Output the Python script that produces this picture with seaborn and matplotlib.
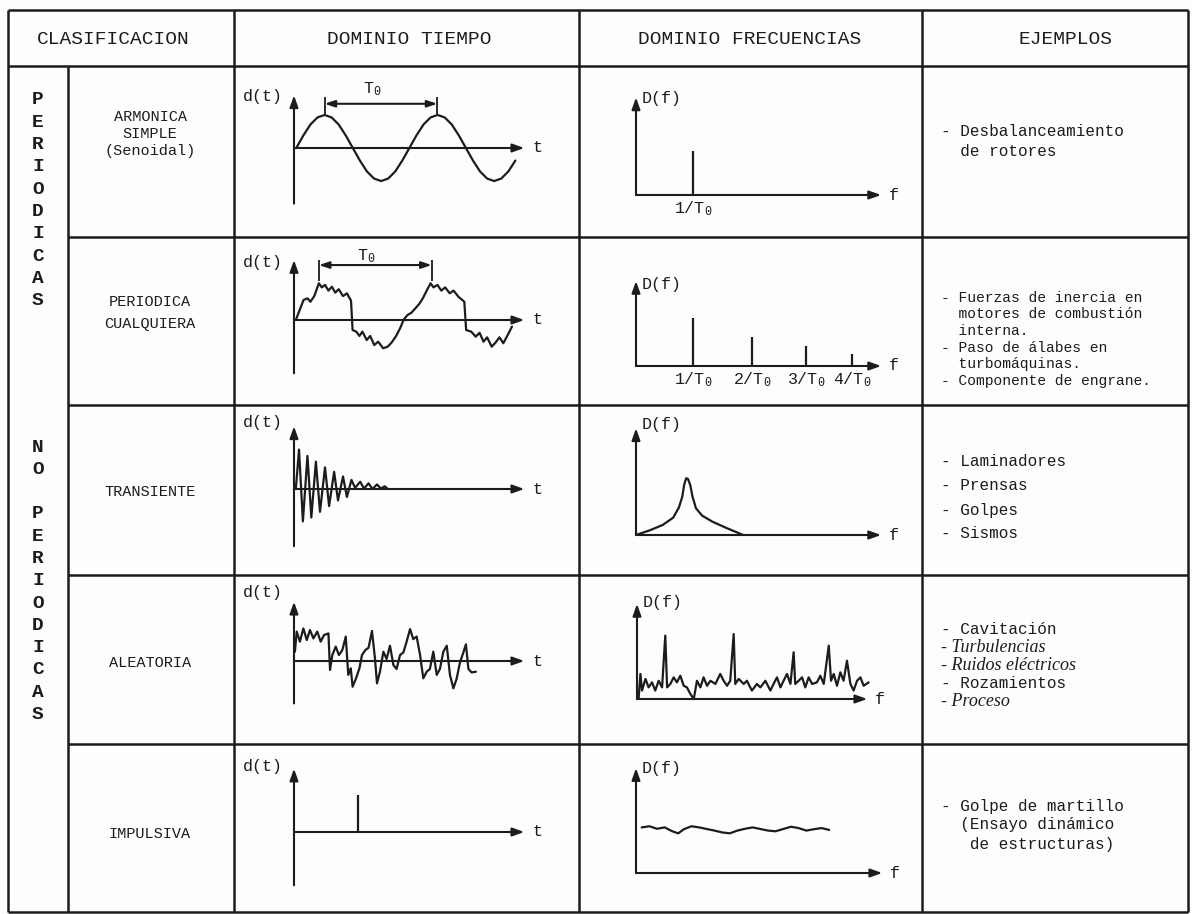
import matplotlib
matplotlib.use('Agg')
import matplotlib.pyplot as plt
import seaborn as sns

sns.set_theme(style='white')
plt.rcParams['font.family'] = ['Liberation Mono', 'DejaVu Sans']
plt.rcParams['mathtext.fontset'] = 'custom'
plt.rcParams['mathtext.rm'] = 'Liberation Mono'
plt.rcParams['mathtext.it'] = 'Liberation Mono'

headers = ['CLASIFICACION', 'DOMINIO TIEMPO', 'DOMINIO FRECUENCIAS', 'EJEMPLOS']
group_letters = [list('PERIODICAS'), ['N', 'O', '', 'P', 'E', 'R', 'I', 'O', 'D', 'I', 'C', 'A', 'S']]
classes = [['ARMONICA', 'SIMPLE', '(Senoidal)'], ['PERIODICA', 'CUALQUIERA'],
           ['TRANSIENTE'], ['ALEATORIA'], ['IMPULSIVA']]

examples = [
    ['- Desbalanceamiento', '  de rotores'],
    ['- Fuerzas de inercia en', '  motores de combustión', '  interna.',
     '- Paso de álabes en', '  turbomáquinas.', '- Componente de engrane.'],
    ['- Laminadores', '- Prensas', '- Golpes', '- Sismos'],
    ['- Cavitación', '- Turbulencias', '- Ruidos eléctricos', '- Rozamientos', '- Proceso'],
    ['- Golpe de martillo', '  (Ensayo dinámico', '   de estructuras)'],
]
handwritten = [[], [], [], [1, 2, 4], []]

# time domain sketches (t, d) in sketch units
sine_t = [0.10, 0.41, 0.72, 1.03, 1.34, 1.65, 1.96, 2.27, 2.58, 2.89, 3.20, 3.51, 3.82, 4.13,
          4.44, 4.75, 5.06, 5.37, 5.68, 5.99, 6.30, 6.61, 6.92, 7.23, 7.54, 7.85, 8.16, 8.47,
          8.78, 9.09, 9.40, 9.71]
sine_d = [0, 0.55, 1.03, 1.34, 1.45, 1.34, 1.03, 0.55, 0, -0.55, -1.03, -1.34, -1.45, -1.34,
          -1.03, -0.55, 0, 0.55, 1.03, 1.34, 1.45, 1.34, 1.03, 0.55, 0, -0.55, -1.03, -1.34,
          -1.45, -1.34, -1.03, -0.55]

per_t = [0.08, 0.25, 0.42, 0.59, 0.72, 0.89, 1.09, 1.22, 1.36, 1.51, 1.66, 1.81, 1.96, 2.15,
         2.32, 2.50, 2.57, 2.73, 2.87, 3.00, 3.19, 3.34, 3.52, 3.69, 3.91, 4.11, 4.28, 4.48,
         4.65, 4.82, 4.98, 5.15, 5.32, 5.49, 5.65, 5.82, 5.99, 6.12, 6.29, 6.46, 6.63, 6.83,
         7.00, 7.21, 7.47, 7.55, 7.77, 7.97, 8.14, 8.31, 8.47, 8.67, 8.84, 9.01, 9.18, 9.35, 9.56]
per_d = [0.00, 0.44, 0.88, 0.95, 0.80, 1.05, 1.61, 1.43, 1.54, 1.29, 1.46, 1.20, 1.35, 1.05,
         1.17, 0.85, -0.44, -0.51, -0.70, -0.51, -0.88, -0.70, -1.10, -0.95, -1.24, -1.17, -0.99,
         -0.70, -0.37, 0.03, 0.22, 0.32, 0.51, 0.70, 0.95, 1.29, 1.61, 1.43, 1.54, 1.29, 1.43,
         1.17, 1.29, 1.02, 0.80, -0.44, -0.51, -0.73, -0.56, -0.95, -0.76, -1.17, -0.99, -0.76,
         -1.02, -0.70, -0.29]

trans_t = [0.08, 0.22, 0.39, 0.59, 0.76, 0.96, 1.14, 1.36, 1.54, 1.76, 1.93, 2.15, 2.32, 2.52,
           2.68, 2.90, 3.07, 3.27, 3.44, 3.64, 3.81, 3.98, 4.11]
trans_d = [0, 1.73, -1.42, 1.45, -1.25, 1.20, -1.00, 0.95, -0.75, 0.75, -0.50, 0.55, -0.35,
           0.40, 0.05, 0.32, 0.02, 0.25, 0.00, 0.20, 0.02, 0.12, 0]

rand_t = [0.04, 0.12, 0.26, 0.41, 0.56, 0.70, 0.85, 1.02, 1.17, 1.32, 1.51, 1.58, 1.68, 1.83,
          1.97, 2.12, 2.27, 2.38, 2.49, 2.57, 2.72, 2.87, 2.98, 3.13, 3.27, 3.42, 3.55, 3.64,
          3.77, 3.92, 4.06, 4.21, 4.36, 4.50, 4.65, 4.80, 4.94, 5.09, 5.23, 5.38, 5.53, 5.67,
          5.82, 5.96, 6.11, 6.26, 6.40, 6.55, 6.70, 6.84, 6.99, 7.13, 7.28, 7.43, 7.54, 7.65,
          7.79, 7.98]
rand_d = [0.41, 1.29, 0.85, 1.43, 0.92, 1.36, 0.99, 1.29, 0.85, 1.14, 1.21, -0.39, 0.26, 0.63,
          0.26, 0.48, 1.07, -0.61, -0.32, -1.13, -0.76, -0.32, 0.26, 0.48, 0.58, 1.32, 0.12,
          -0.98, -0.47, 0.41, 0.09, 0.67, -0.18, -0.35, 0.26, 0.38, 0.85, 1.40, 0.96, 1.07, 0.26,
          -0.76, -0.47, -0.35, 0.41, -0.61, -0.35, 0.41, 0.67, -0.61, -1.20, -0.79, -0.06, 0.38,
          0.73, -0.35, -0.50, -0.47]

impulse_t = [2.82]
impulse_d = [1.61]

period_marks = [(1.34, 6.29), (1.09, 6.04)]   # T0 span on rows 1 and 2

# frequency domain sketches (f, D)
harm_f = [2.52]
harm_D = [1.94]
multi_f = [2.52, 5.08, 7.47, 9.48]
multi_D = [2.12, 1.27, 0.88, 0.51]
harm_labels = ['1/T$_0$', '2/T$_0$', '3/T$_0$', '4/T$_0$']

peak_f = [0, 0.59, 1.17, 1.63, 1.88, 2.03, 2.11, 2.20, 2.28, 2.38, 2.48, 2.63, 2.90, 3.36,
          3.94, 4.70]
peak_D = [0, 0.20, 0.44, 0.76, 1.20, 1.68, 2.19, 2.49, 2.46, 2.19, 1.68, 1.17, 0.85, 0.58,
          0.32, 0]

noise_f = [0.07, 0.15, 0.22, 0.37, 0.51, 0.66, 0.80, 0.95, 1.10, 1.24, 1.32, 1.46, 1.61, 1.75,
           1.90, 2.05, 2.19, 2.34, 2.49, 2.63, 2.78, 2.92, 3.07, 3.22, 3.44, 3.65, 3.80, 3.95,
           4.09, 4.24, 4.31, 4.46, 4.68, 4.82, 5.04, 5.26, 5.41, 5.63, 5.85, 5.99, 6.14, 6.29,
           6.43, 6.58, 6.73, 6.87, 6.94, 7.09, 7.24, 7.38, 7.53, 7.68, 7.89, 8.04, 8.19, 8.41,
           8.51, 8.63, 8.77, 8.92, 9.06, 9.21, 9.36, 9.50, 9.65, 9.80, 9.94, 10.16]
noise_D = [0, 1.10, 0.37, 0.88, 0.51, 0.73, 0.37, 0.80, 0.51, 2.78, 0.51, 0.66, 0.95, 0.73,
           1.02, 0.58, 0.51, 0.22, 0.0, 0.80, 0.51, 0.95, 0.58, 0.80, 0.66, 1.10, 0.80, 0.58,
           0.80, 2.85, 0.66, 0.88, 0.66, 0.80, 0.37, 0.66, 0.51, 0.80, 0.37, 0.66, 0.95, 0.51,
           0.80, 1.10, 0.66, 2.05, 0.66, 0.80, 0.95, 0.51, 0.95, 0.66, 0.73, 1.02, 0.66, 2.34,
           0.80, 1.10, 0.58, 1.17, 0.80, 1.68, 0.66, 0.37, 0.80, 0.95, 0.58, 0.73]

flat_f = [0.25, 0.59, 0.92, 1.26, 1.59, 1.85, 2.10, 2.43, 2.77, 3.10, 3.44, 3.78, 4.11, 4.45,
          4.78, 5.12, 5.45, 5.79, 6.12, 6.46, 6.80, 7.13, 7.47, 7.80, 8.14, 8.47]
flat_D = [2.00, 2.05, 1.94, 2.00, 1.83, 1.74, 1.92, 2.05, 2.00, 1.93, 1.86, 1.78, 1.74, 1.86,
          1.94, 2.00, 1.93, 1.86, 1.83, 1.93, 2.03, 1.97, 1.86, 1.92, 1.97, 1.89]

# ---------------- layout (pixels on the sheet) ----------------
W, H = 1192, 914
PX = 22.8            # pixels per sketch unit
INK = '#1c1c1c'
col_x = [8, 68, 234, 579, 922, 1188]
row_y = [10, 66, 237, 405, 575, 744, 912]

fig = plt.figure(figsize=(W / 100, H / 100), dpi=100)
fig.patch.set_facecolor('#fdfdfd')
bg = fig.add_axes([0, 0, 1, 1])
bg.set_xlim(0, W)
bg.set_ylim(H, 0)
bg.axis('off')

# table rules
bg.hlines([row_y[0], row_y[1], row_y[-1]], col_x[0], col_x[-1], color=INK, lw=1.8)
bg.hlines(row_y[2:-1], col_x[1], col_x[-1], color=INK, lw=1.8)
bg.vlines([col_x[0], col_x[2], col_x[3], col_x[4], col_x[5]], row_y[0], row_y[-1], color=INK, lw=1.8)
bg.vlines(col_x[1], row_y[1], row_y[-1], color=INK, lw=1.8)

header_x = [113, 409, 750, 1066]
for x, h in zip(header_x, headers):
    bg.text(x, 40, h, ha='center', va='center', fontsize=14, color=INK)

# stacked group letters
for start, letters in zip([100, 447], group_letters):
    for i, ch in enumerate(letters):
        bg.text(38, start + i * 22.3, ch, ha='center', va='center', fontsize=14,
                fontweight='bold', color=INK)

class_y = [[117, 134, 151], [302, 324], [492], [663], [834]]
for lines, ys in zip(classes, class_y):
    for s, y in zip(lines, ys):
        bg.text(150, y, s, ha='center', va='center', fontsize=11, color=INK)

ex_y = [[131, 152], [298, 314.5, 331, 347.5, 364, 380.5], [462, 486, 510, 534],
        [630, 648, 666, 684, 702], [806, 825, 844]]
for r, lines in enumerate(examples):
    for i, s in enumerate(lines):
        y = ex_y[r][i]
        if i in handwritten[r]:
            bg.text(941, y, s, ha='left', va='center', fontsize=13, style='italic',
                    family=['Liberation Serif'], color=INK)
        else:
            bg.text(941, y, s, ha='left', va='center', fontsize=11.5 if r != 1 else 10.5,
                    color=INK)


def sketch_axes(ox, oy, xlim, ylim):
    left, right = ox + xlim[0] * PX, ox + xlim[1] * PX
    top, bottom = oy - ylim[1] * PX, oy - ylim[0] * PX
    ax = fig.add_axes([left / W, 1 - bottom / H, (right - left) / W, (bottom - top) / H])
    ax.set_xlim(xlim)
    ax.set_ylim(ylim)
    ax.axis('off')
    return ax


def arrow(ax, start, end, style='-|>,head_length=0.7,head_width=0.25'):
    ax.annotate('', xy=end, xytext=start,
                arrowprops=dict(arrowstyle=style, color=INK, lw=1.5,
                                shrinkA=0, shrinkB=0, mutation_scale=10))


def curve(ax, x, y):
    sns.lineplot(x=x, y=y, ax=ax, color=INK, lw=1.6, sort=False, estimator=None)


# ---------------- time domain column ----------------
t_origin_y = [148, 320, 489, 661, 832]
t_span = [(-2.44, 2.31), (-2.34, 2.63), (-2.51, 2.75), (-1.86, 2.60), (-2.34, 2.78)]
t_end = 10.1
dt_label_y = [97, 262, 422, 592, 766]
time_curves = [(sine_t, sine_d), (per_t, per_d), (trans_t, trans_d), (rand_t, rand_d), None]

t_axes = []
for r in range(5):
    ax = sketch_axes(294, t_origin_y[r], (-0.3, 11.2), (-2.9, 3.3))
    lo, hi = t_span[r]
    arrow(ax, (0, lo), (0, hi))
    arrow(ax, (0, 0), (t_end, 0))
    ax.text(t_end + 0.35, 0, 't', ha='left', va='center', fontsize=12, color=INK)
    if time_curves[r] is not None:
        curve(ax, *time_curves[r])
    bg.text(263, dt_label_y[r], 'd(t)', ha='center', va='center', fontsize=12, color=INK)
    t_axes.append(ax)

t_axes[4].vlines(impulse_t, 0, impulse_d, color=INK, lw=1.6)

mark_y = [1.94, 2.41]
mark_bar = [(1.5, 2.24), (1.7, 2.62)]
label_y = [2.6, 2.8]
for r in range(2):
    ax = t_axes[r]
    a, b = period_marks[r]
    arrow(ax, (a, mark_y[r]), (b, mark_y[r]), style='<|-|>,head_length=0.6,head_width=0.2')
    ax.vlines([a, b], *mark_bar[r], color=INK, lw=1.3)
    ax.text((a + b) / 2 - 0.4, label_y[r], 'T$_0$', ha='center', va='center', fontsize=12, color=INK)

# ---------------- frequency domain column ----------------
f_origin = [(636, 195), (636, 366), (636, 535), (637, 699), (636, 873)]
f_top = [4.28, 3.73, 4.68, 4.17, 4.60]
f_end = [10.75, 10.75, 10.75, 10.1, 10.8]
Df_label_y = [98, 284, 424, 603, 768]

f_axes = []
for r in range(5):
    ox, oy = f_origin[r]
    ax = sketch_axes(ox, oy, (-0.3, 11.8), (-1.0, 5.0))
    arrow(ax, (0, 0), (0, f_top[r]))
    arrow(ax, (0, 0), (f_end[r], 0))
    ax.text(f_end[r] + 0.35, 0, 'f', ha='left', va='center', fontsize=12, color=INK)
    bg.text(ox + 6, Df_label_y[r], 'D(f)', ha='left', va='center', fontsize=12, color=INK)
    f_axes.append(ax)

f_axes[0].vlines(harm_f, 0, harm_D, color=INK, lw=1.6)
f_axes[1].vlines(multi_f, 0, multi_D, color=INK, lw=1.6)
for f, lab in zip(harm_f, harm_labels):
    f_axes[0].text(f, -0.62, lab, ha='center', va='center', fontsize=12, color=INK)
for f, lab in zip(multi_f, harm_labels):
    f_axes[1].text(f, -0.58, lab, ha='center', va='center', fontsize=12, color=INK)
curve(f_axes[2], peak_f, peak_D)
curve(f_axes[3], noise_f, noise_D)
curve(f_axes[4], flat_f, flat_D)

fig.savefig('out.png', dpi=100, facecolor=fig.get_facecolor())
